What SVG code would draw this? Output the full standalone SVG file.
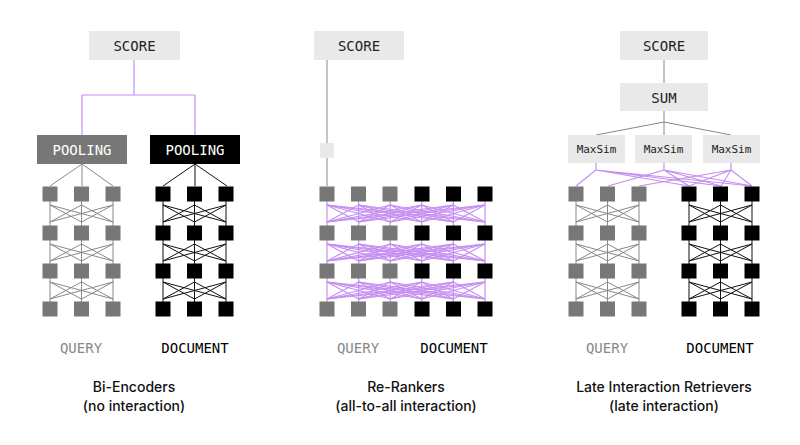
<svg xmlns="http://www.w3.org/2000/svg" xmlns:xlink="http://www.w3.org/1999/xlink" width="800" height="445" viewBox="0 0 800 445">
<style>
.box{fill:#e9e9e9}
.mono{font-family:"DejaVu Sans Mono",monospace;font-size:14px;text-anchor:middle}
.t{font-family:"Inter","Liberation Sans",sans-serif;font-size:14px;font-weight:500;text-anchor:middle;fill:#111}
.q{fill:#777}.d{fill:#000}
.lq{stroke:#888;stroke-width:1;fill:none}
.ld{stroke:#111;stroke-width:1;fill:none}
.lp{stroke:#c58ef0;stroke-width:1.2;fill:none}
</style>
<defs>
<g id="x3">
<line x1="0" y1="3" x2="31.5" y2="20"/><line x1="0" y1="3" x2="63" y2="20"/>
<line x1="31.5" y1="3" x2="0" y2="20"/><line x1="31.5" y1="3" x2="63" y2="20"/>
<line x1="63" y1="3" x2="0" y2="20"/><line x1="63" y1="3" x2="31.5" y2="20"/>
</g>
<g id="x6">
<line x1="0" y1="3" x2="31.6" y2="20"/><line x1="0" y1="3" x2="63.2" y2="20"/><line x1="0" y1="3" x2="94.8" y2="20"/><line x1="0" y1="3" x2="126.4" y2="20"/><line x1="0" y1="3" x2="158" y2="20"/>
<line x1="31.6" y1="3" x2="0" y2="20"/><line x1="31.6" y1="3" x2="63.2" y2="20"/><line x1="31.6" y1="3" x2="94.8" y2="20"/><line x1="31.6" y1="3" x2="126.4" y2="20"/><line x1="31.6" y1="3" x2="158" y2="20"/>
<line x1="63.2" y1="3" x2="0" y2="20"/><line x1="63.2" y1="3" x2="31.6" y2="20"/><line x1="63.2" y1="3" x2="94.8" y2="20"/><line x1="63.2" y1="3" x2="126.4" y2="20"/><line x1="63.2" y1="3" x2="158" y2="20"/>
<line x1="94.8" y1="3" x2="0" y2="20"/><line x1="94.8" y1="3" x2="31.6" y2="20"/><line x1="94.8" y1="3" x2="63.2" y2="20"/><line x1="94.8" y1="3" x2="126.4" y2="20"/><line x1="94.8" y1="3" x2="158" y2="20"/>
<line x1="126.4" y1="3" x2="0" y2="20"/><line x1="126.4" y1="3" x2="31.6" y2="20"/><line x1="126.4" y1="3" x2="63.2" y2="20"/><line x1="126.4" y1="3" x2="94.8" y2="20"/><line x1="126.4" y1="3" x2="158" y2="20"/>
<line x1="158" y1="3" x2="0" y2="20"/><line x1="158" y1="3" x2="31.6" y2="20"/><line x1="158" y1="3" x2="63.2" y2="20"/><line x1="158" y1="3" x2="94.8" y2="20"/><line x1="158" y1="3" x2="126.4" y2="20"/>
</g>
<g id="v3"><line x1="0" y1="0" x2="0" y2="116"/><line x1="31.5" y1="0" x2="31.5" y2="116"/><line x1="63" y1="0" x2="63" y2="116"/></g>
<g id="stack3">
<use xlink:href="#v3" x="0" y="194"/>
<use xlink:href="#x3" x="0" y="202"/><use xlink:href="#x3" x="0" y="241"/><use xlink:href="#x3" x="0" y="279"/>
</g>
<g id="sq3">
<rect x="-7.5" y="186.5" width="15" height="15"/><rect x="24" y="186.5" width="15" height="15"/><rect x="55.5" y="186.5" width="15" height="15"/>
<rect x="-7.5" y="225.5" width="15" height="15"/><rect x="24" y="225.5" width="15" height="15"/><rect x="55.5" y="225.5" width="15" height="15"/>
<rect x="-7.5" y="263.5" width="15" height="15"/><rect x="24" y="263.5" width="15" height="15"/><rect x="55.5" y="263.5" width="15" height="15"/>
<rect x="-7.5" y="301.5" width="15" height="15"/><rect x="24" y="301.5" width="15" height="15"/><rect x="55.5" y="301.5" width="15" height="15"/>
</g>
</defs>
<rect width="800" height="445" fill="#fff"/>

<g id="connectors">
<!-- left -->
<path class="lp" d="M134 60V95M82 95H195M82 95V135M195 95V135"/>
<g class="lq"><path d="M82 164L50 186M82 164V186M82 164L113 186"/><use xlink:href="#stack3" x="50"/></g>
<g class="ld"><path d="M195 164L163 186M195 164V186M195 164L227 186"/><use xlink:href="#stack3" x="163"/></g>
<!-- middle -->
<path class="lq" d="M327 60V143M327 158V186"/>
<g class="lp">
<line x1="327" y1="194" x2="327" y2="310"/><line x1="358.6" y1="194" x2="358.6" y2="310"/><line x1="390.2" y1="194" x2="390.2" y2="310"/><line x1="421.8" y1="194" x2="421.8" y2="310"/><line x1="453.4" y1="194" x2="453.4" y2="310"/><line x1="485" y1="194" x2="485" y2="310"/>
<use xlink:href="#x6" x="327" y="202"/><use xlink:href="#x6" x="327" y="241"/><use xlink:href="#x6" x="327" y="279"/>
</g>
<!-- right -->
<path class="lq" d="M664 60V83M664 111V122M664 122L596 135M664 122V135M664 122L731 135"/>
<g class="lq"><use xlink:href="#stack3" x="576"/></g>
<g class="ld"><use xlink:href="#stack3" x="689"/></g>
<g class="lp">
<path d="M596 163V170L576 186M596 170L689 186M596 170L721 186M596 170L752 186"/>
<path d="M664 163V170L608 186M664 170L689 186M664 170L721 186M664 170L752 186"/>
<path d="M731 163V170L639 186M731 170L689 186M731 170L721 186M731 170L752 186"/>
</g>
</g>

<g id="left-score"><rect class="box" x="89" y="31" width="91" height="29"/><text class="mono" x="134.5" y="51" fill="#222">SCORE</text></g>
<g id="pool-q"><rect x="37" y="135" width="90" height="29" fill="#777"/><text class="mono" x="82" y="155" fill="#fff">POOLING</text></g>
<g id="pool-d"><rect x="150" y="135" width="90" height="29" fill="#000"/><text class="mono" x="195" y="155" fill="#fff">POOLING</text></g>
<g id="left-q" class="q"><use xlink:href="#sq3" x="50"/></g>
<g id="left-d" class="d"><use xlink:href="#sq3" x="163"/></g>

<g id="mid-score"><rect class="box" x="314" y="31" width="90" height="29"/><text class="mono" x="359" y="51" fill="#222">SCORE</text></g>
<g id="mid-small"><rect class="box" x="320" y="143" width="14" height="15"/></g>
<g id="mid-q" class="q"><use xlink:href="#sq3" x="327"/></g>
<g id="mid-d" class="d"><use xlink:href="#sq3" x="422"/></g>

<g id="right-score"><rect class="box" x="620" y="31" width="88" height="29"/><text class="mono" x="664" y="51" fill="#222">SCORE</text></g>
<g id="sum"><rect class="box" x="620" y="83" width="88" height="28"/><text class="mono" x="664" y="103" fill="#222">SUM</text></g>
<g id="ms1"><rect class="box" x="568" y="135" width="57" height="28"/><text class="mono" x="596.5" y="153" fill="#222" style="font-size:11px">MaxSim</text></g>
<g id="ms2"><rect class="box" x="635" y="135" width="57" height="28"/><text class="mono" x="663.5" y="153" fill="#222" style="font-size:11px">MaxSim</text></g>
<g id="ms3"><rect class="box" x="703" y="135" width="57" height="28"/><text class="mono" x="731.5" y="153" fill="#222" style="font-size:11px">MaxSim</text></g>
<g id="right-q" class="q"><use xlink:href="#sq3" x="576"/></g>
<g id="right-d" class="d"><use xlink:href="#sq3" x="689"/></g>

<g id="labels">
<text class="mono" x="81" y="353" fill="#888">QUERY</text>
<text class="mono" x="195" y="353" fill="#000">DOCUMENT</text>
<text class="mono" x="358" y="353" fill="#888">QUERY</text>
<text class="mono" x="454" y="353" fill="#000">DOCUMENT</text>
<text class="mono" x="607" y="353" fill="#888">QUERY</text>
<text class="mono" x="720" y="353" fill="#000">DOCUMENT</text>
<text class="t" x="134" y="392">Bi-Encoders</text><text class="t" x="134" y="411">(no interaction)</text>
<text class="t" x="406" y="392">Re-Rankers</text><text class="t" x="406" y="411">(all-to-all interaction)</text>
<text class="t" x="664" y="392">Late Interaction Retrievers</text><text class="t" x="664" y="411">(late interaction)</text>
</g>
</svg>
